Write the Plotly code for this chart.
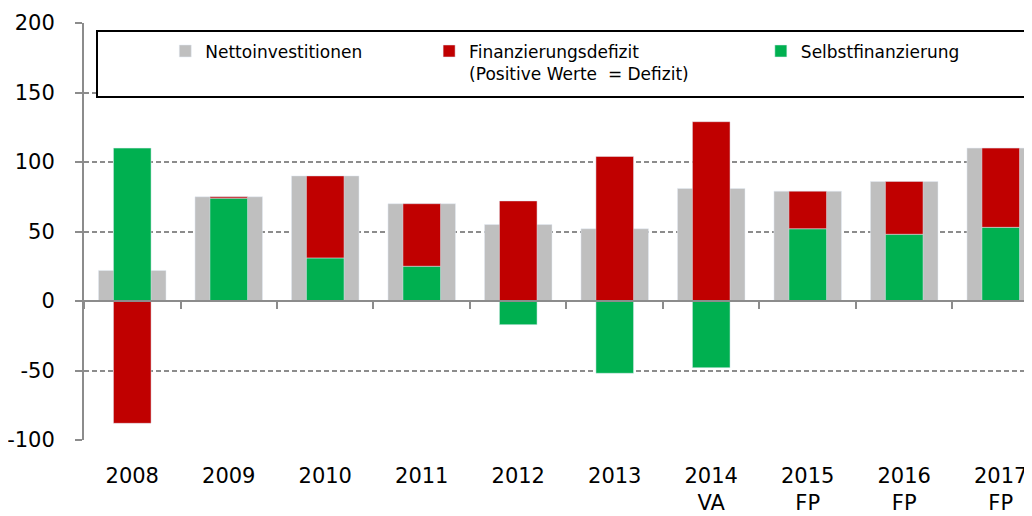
import plotly.graph_objects as go

categories = ["2008", "2009", "2010", "2011", "2012", "2013", "2014<br>VA", "2015<br>FP", "2016<br>FP", "2017<br>FP"]
netto = [22, 75, 90, 70, 55, 52, 81, 79, 86, 110]
selbst = [110, 74, 31, 25, -17, -52, -48, 52, 48, 53]
defizit = [-88, 1, 59, 45, 72, 104, 129, 27, 38, 57]
y_ticks = [-100, -50, 0, 50, 100, 150, 200]
y_ticktext = [str(v) for v in y_ticks]

GREY = "#BFBFBF"
RED = "#C00000"
GREEN = "#00B050"
FONT = "DejaVu Sans"

fig = go.Figure()
fig.add_trace(go.Bar(x=categories, y=netto, name="Nettoinvestitionen", marker_color=GREY,
                     width=0.7, xaxis="x", yaxis="y", legend="legend", showlegend=True))
fig.add_trace(go.Bar(x=categories, y=selbst, name="Selbstfinanzierung", marker_color=GREEN,
                     width=0.39, xaxis="x2", yaxis="y", legend="legend3", showlegend=True))
fig.add_trace(go.Bar(x=categories, y=defizit, name="Finanzierungsdefizit<br>(Positive Werte  = Defizit)",
                     marker_color=RED, width=0.39, xaxis="x2", yaxis="y", legend="legend2", showlegend=True))

xr = [-0.5, 9.407]
fig.update_layout(
    width=1032, height=516,
    margin=dict(l=76, r=0, t=15, b=84, autoexpand=False),
    paper_bgcolor="white", plot_bgcolor="white",
    barmode="relative",
    showlegend=True,
    font=dict(family=FONT, size=21, color="black"),
    xaxis=dict(type="category", categoryorder="array", categoryarray=categories,
               range=xr, showline=False, showgrid=False, ticks="", zeroline=False, automargin=False,
               tickfont=dict(size=21), ticklabelstandoff=21),
    xaxis2=dict(type="category", categoryorder="array", categoryarray=categories,
                range=xr, overlaying="x", anchor="free", position=1/3, side="bottom",
                showline=True, linecolor="#8C8C8C", linewidth=2, automargin=False,
                ticks="outside", ticklen=7, tickwidth=2, tickcolor="#8C8C8C",
                tickson="boundaries", showticklabels=False, showgrid=False, zeroline=False),
    yaxis=dict(range=[-100, 200], tickvals=y_ticks, ticktext=y_ticktext, automargin=False,
               showline=True, linecolor="#8C8C8C", linewidth=2,
               ticks="outside", ticklen=7, tickwidth=2, tickcolor="#8C8C8C",
               showgrid=True, gridcolor="#8C8C8C", gridwidth=1.8, griddash="5px,3px",
               zeroline=False, tickfont=dict(size=21), ticklabelstandoff=16),
    legend=dict(x=0.085, y=0.975, xanchor="left", yanchor="top", orientation="h",
                bgcolor="rgba(0,0,0,0)", borderwidth=0, font=dict(size=17)),
    legend2=dict(x=0.361, y=0.975, xanchor="left", yanchor="top", orientation="h",
                 bgcolor="rgba(0,0,0,0)", borderwidth=0, font=dict(size=17), valign="top"),
    legend3=dict(x=0.708, y=0.975, xanchor="left", yanchor="top", orientation="h",
                 bgcolor="rgba(0,0,0,0)", borderwidth=0, font=dict(size=17)),
    shapes=[dict(type="rect", xref="paper", yref="paper", x0=0.0136, x1=1.02, y0=0.8225, y1=0.981,
                 line=dict(color="black", width=2), fillcolor="white", layer="above")],
)

fig.write_html("out.html")
